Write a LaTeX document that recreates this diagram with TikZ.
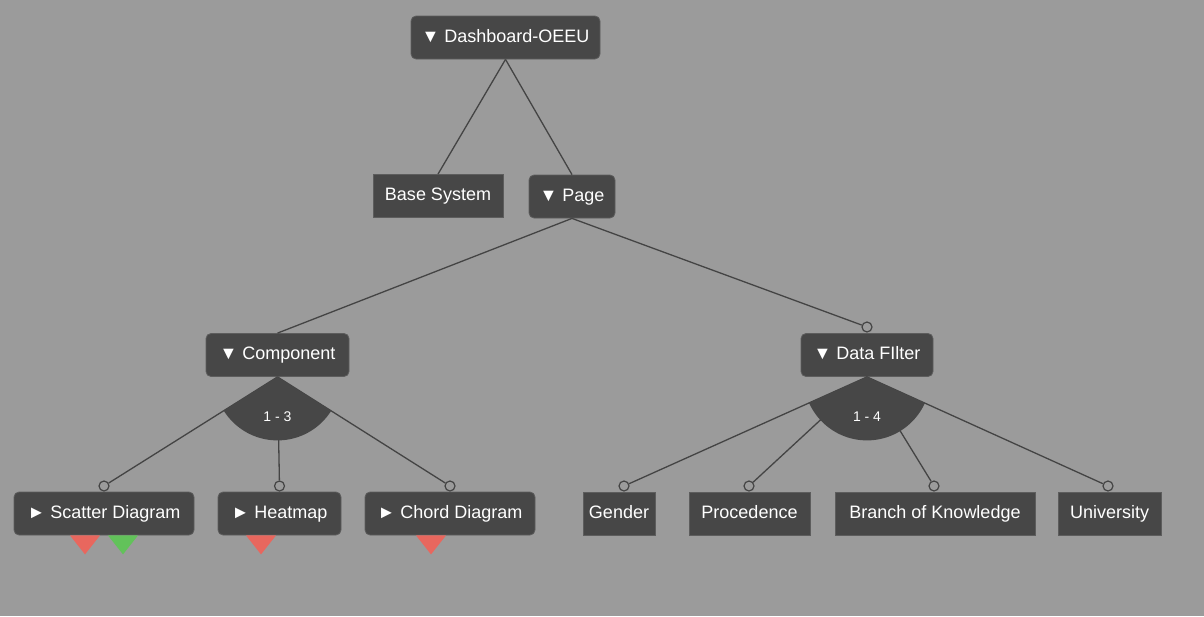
\documentclass[tikz,border=0pt]{standalone}
\usepackage{fontspec}
\setmainfont{Liberation Sans}
\usetikzlibrary{calc}
\definecolor{bggray}{HTML}{9B9B9B}
\definecolor{boxgray}{HTML}{474747}
\definecolor{linegray}{HTML}{444444}
\definecolor{warnred}{HTML}{E8675E}
\definecolor{okgreen}{HTML}{62C25A}
\tikzset{
  feature/.style={fill=boxgray, draw=boxgray!88!white, line width=0.8pt, text=white,
    rounded corners=5pt, minimum height=43pt, inner sep=0pt,
    text height=13pt, text depth=4pt,
    font=\fontsize{18}{20}\selectfont},
  leaf/.style={feature, rounded corners=0pt},
  optional/.style={circle, draw=linegray, line width=1.2pt, fill=bggray,
    inner sep=0pt, minimum size=10pt},
  link/.style={draw=linegray, line width=1.3pt},
  card/.style={text=white, font=\fontsize{14}{16}\selectfont}
}
% flag under a feature: #1 = node, #2 = shift, #3 = colour
\newcommand{\flagmark}[3]{\fill[#3] ($(#1.south)+(#2-15,0)$) -- ++(30,0) -- ++(-15,19) -- cycle;}
\begin{document}
\begin{tikzpicture}[x=1pt,y=-1pt]
% Background
\fill[bggray] (0,0) rectangle (1204,616);
\useasboundingbox (0,0) rectangle (1204,616);
% Root
\node[feature, minimum width=189pt] (dash) at (505.5,37.5) {▼ Dashboard-OEEU};
% Second level
\node[leaf, minimum width=130pt] (base) at (438,196) {Base System};
\node[feature, minimum width=86pt] (page) at (572,196.5) {▼ Page};
% Third level
\node[feature, minimum width=143pt] (comp) at (277.5,355) {▼ Component};
\node[feature, minimum width=132pt] (filt) at (867,355) {▼ Data FIlter};
% Components
\node[feature, minimum width=180pt] (scat) at (104,513.5) {► Scatter Diagram};
\node[feature, minimum width=123pt] (heat) at (279.5,513.5) {► Heatmap};
\node[feature, minimum width=170pt] (chord) at (450,513.5) {► Chord Diagram};
% Filters
\node[leaf, minimum width=72pt] (gend) at (619,513.5) {Gender};
\node[leaf, minimum width=121pt] (proc) at (749.5,513.5) {Procedence};
\node[leaf, minimum width=200pt] (branch) at (935,513.5) {Branch of Knowledge};
\node[leaf, minimum width=103pt] (univ) at (1109.5,513.5) {University};
% Optional markers
\node[optional] (o-filt) at (867,327) {};
\node[optional] (o-scat) at (104,486) {};
\node[optional] (o-heat) at (279.5,486) {};
\node[optional] (o-chord) at (450,486) {};
\node[optional] (o-gend) at (624,486) {};
\node[optional] (o-proc) at (749,486) {};
\node[optional] (o-branch) at (934,486) {};
\node[optional] (o-univ) at (1108,486) {};
% Links
\draw[link] (dash.south) -- (base.north);
\draw[link] (dash.south) -- (page.north);
\draw[link] (page.south) -- (comp.north);
\draw[link] (page.south) -- (o-filt);
\foreach \c in {scat,heat,chord}
  \draw[link] (comp.south) -- (o-\c);
\foreach \c in {gend,proc,branch,univ}
  \draw[link] (filt.south) -- (o-\c);
% Group cardinality 1 - 3
\begin{scope}
\clip (comp.south) -- ($(comp.south)!4!(o-scat.center)$) -- ($(comp.south)!4!(o-chord.center)$) -- cycle;
\fill[boxgray] (comp.south) circle (63.5);
\end{scope}
\node[card] (card-comp) at ($(comp.south)+(0,40)$) {1 - 3};
% Group cardinality 1 - 4
\begin{scope}
\clip (filt.south) -- ($(filt.south)!4!(o-gend.center)$) -- ($(filt.south)!4!(o-univ.center)$) -- cycle;
\fill[boxgray] (filt.south) circle (63.5);
\end{scope}
\node[card] (card-filt) at ($(filt.south)+(0,40)$) {1 - 4};
% Flags
\flagmark{scat}{-19}{warnred}
\flagmark{scat}{19}{okgreen}
\flagmark{heat}{-18.5}{warnred}
\flagmark{chord}{-19}{warnred}
\end{tikzpicture}
\end{document}
